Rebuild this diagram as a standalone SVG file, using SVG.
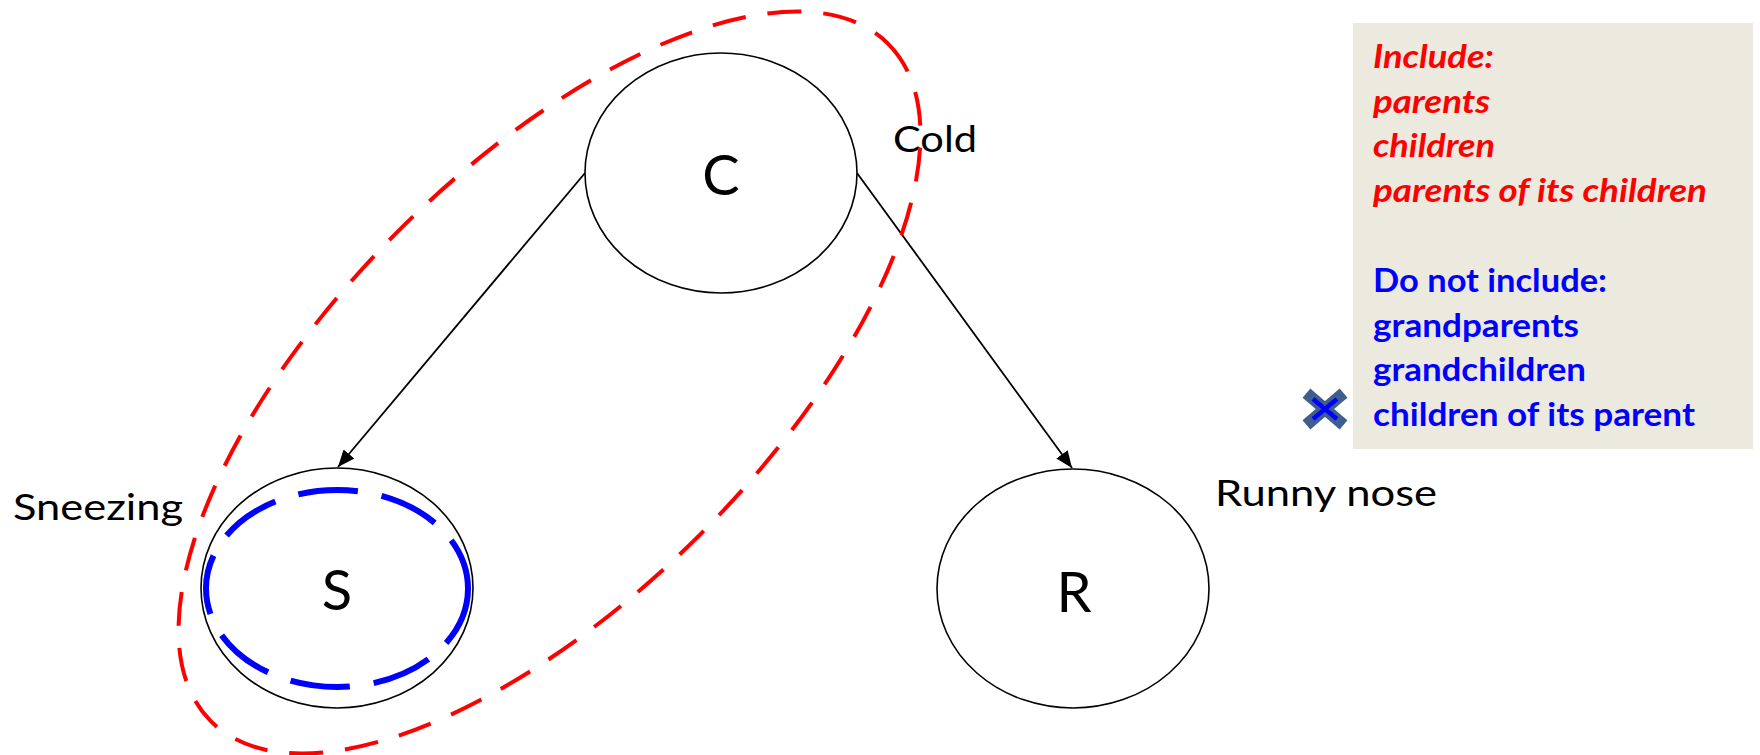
<svg xmlns="http://www.w3.org/2000/svg" width="1760" height="755" viewBox="0 0 1760 755">
<style>
.node{fill:#fff;stroke:#000;stroke-width:1.6}
.nl{font-family:Lato,"Liberation Sans",sans-serif;font-size:56px;fill:#000;text-anchor:middle}
.lab{font-family:Lato,"Liberation Sans",sans-serif;font-size:37px;fill:#000}
.edge{stroke:#000;stroke-width:1.8;fill:none;marker-end:url(#ah)}
.inc{font-family:Lato,"Liberation Sans",sans-serif;font-size:32px;font-weight:bold;font-style:italic;fill:#FF0000}
.exc{font-family:Lato,"Liberation Sans",sans-serif;font-size:32px;font-weight:bold;fill:#0000FF}
</style>
<defs>
<marker id="ah" markerUnits="userSpaceOnUse" markerWidth="18" markerHeight="14" refX="17" refY="7" orient="auto">
<path d="M0,0 L17,7 L0,14 Z" fill="#000"/>
</marker>
</defs>
<rect width="1760" height="755" fill="#fff"/>
<g id="connectors">
<line class="edge" x1="585" y1="173" x2="338" y2="467"/>
<line class="edge" x1="857" y1="173" x2="1072" y2="468"/>
</g>
<g id="node-C">
<ellipse class="node" cx="721" cy="173" rx="136" ry="120"/>
<text class="nl" x="721" y="195">C</text>
<text class="lab" x="893" y="152" textLength="84" lengthAdjust="spacingAndGlyphs">Cold</text>
</g>
<g id="node-S">
<ellipse class="node" cx="337" cy="588" rx="136" ry="120"/>
<text class="nl" x="337" y="610">S</text>
<text class="lab" x="13" y="520" textLength="170" lengthAdjust="spacingAndGlyphs">Sneezing</text>
</g>
<g id="node-R">
<ellipse class="node" cx="1073" cy="588.5" rx="136" ry="119.5"/>
<text class="nl" x="1074" y="612">R</text>
<text class="lab" x="1215" y="506" textLength="222" lengthAdjust="spacingAndGlyphs">Runny nose</text>
</g>
<g id="include-region">
<ellipse cx="549.5" cy="382.5" rx="479" ry="214" transform="rotate(-45 549.5 382.5)" fill="none" stroke="#FF0000" stroke-width="4" stroke-dasharray="34 22"/>
</g>
<g id="exclude-region">
<ellipse cx="337" cy="588.5" rx="131" ry="98.5" fill="none" stroke="#0000FF" stroke-width="6" stroke-dasharray="60 24"/>
</g>
<g id="legend">
<rect x="1353" y="23" width="400" height="426" fill="#ECE9DF"/>
<text class="inc" x="1373" y="68" textLength="121" lengthAdjust="spacingAndGlyphs">Include:</text>
<text class="inc" x="1373" y="113" textLength="117" lengthAdjust="spacingAndGlyphs">parents</text>
<text class="inc" x="1373" y="157" textLength="122" lengthAdjust="spacingAndGlyphs">children</text>
<text class="inc" x="1373" y="202" textLength="334" lengthAdjust="spacingAndGlyphs">parents of its children</text>
<text class="exc" x="1373" y="292" textLength="234" lengthAdjust="spacingAndGlyphs">Do not include:</text>
<text class="exc" x="1373" y="337" textLength="206" lengthAdjust="spacingAndGlyphs">grandparents</text>
<text class="exc" x="1373" y="381" textLength="213" lengthAdjust="spacingAndGlyphs">grandchildren</text>
<text class="exc" x="1373" y="426" textLength="322" lengthAdjust="spacingAndGlyphs">children of its parent</text>
</g>
<g id="x-icon">
<path d="M1311,397 L1339,421 M1339,397 L1311,421" stroke="#3E5E8E" stroke-width="12" stroke-linecap="square"/>
<path d="M1313,399 L1337,419 M1337,399 L1313,419" stroke="#0000FF" stroke-width="4.5" stroke-linecap="butt"/>
</g>
</svg>
